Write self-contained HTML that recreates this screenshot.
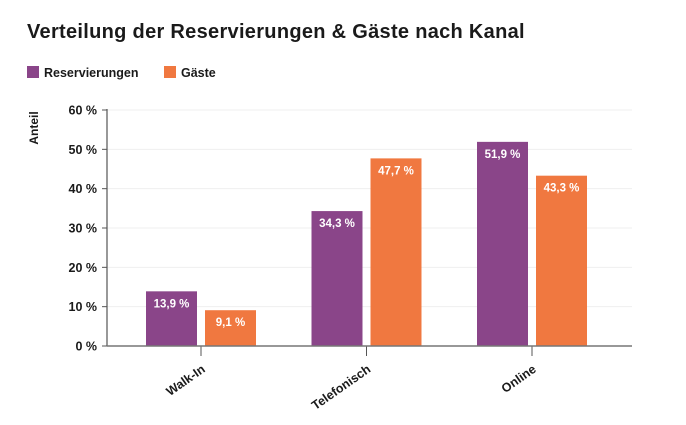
<!DOCTYPE html>
<html><head><meta charset="utf-8">
<style>
html,body{margin:0;padding:0;background:#fff;width:686px;height:425px;overflow:hidden}
svg{display:block;font-family:"Liberation Sans",sans-serif}
</style></head>
<body>
<svg id="chart" width="686" height="425">
  <text x="27" y="38" font-size="20" letter-spacing="0.3" font-weight="bold" fill="#1a1a1a">Verteilung der Reservierungen &amp; Gäste nach Kanal</text>
  <g>
    <rect x="27" y="66" width="12" height="12" fill="#8a4589"/>
    <text x="44" y="77" font-size="12.5" font-weight="bold" fill="#1a1a1a">Reservierungen</text>
    <rect x="164" y="66" width="12" height="12" fill="#f07840"/>
    <text x="181" y="77" font-size="12.5" font-weight="bold" fill="#1a1a1a">Gäste</text>
  </g>
  <text transform="translate(38,128) rotate(-90)" text-anchor="middle" font-size="12" font-weight="bold" fill="#1a1a1a">Anteil</text>
  <g id="grid"></g>
  <g id="bars"></g>
  <g id="axes"></g>
</svg>
<script>
const categories = ["Walk-In", "Telefonisch", "Online"];
const reservierungen = [13.9, 34.3, 51.9];
const gaeste = [9.1, 47.7, 43.3];
const yTicks = [0, 10, 20, 30, 40, 50, 60];
const yTickLabels = ["0 %", "10 %", "20 %", "30 %", "40 %", "50 %", "60 %"];

const NS = "http://www.w3.org/2000/svg";
const x0 = 107, x1 = 632, yBase = 346, yTop = 110, yMax = 60;
const catStart = 201, catStep = 165.5, barW = 51, gap = 8;
function yScale(v){ return yBase - (v / yMax) * (yBase - yTop); }
function xCenter(i){ return catStart + i * catStep; }
function mk(tag, attrs, parent){
  const e = document.createElementNS(NS, tag);
  for (const k in attrs) e.setAttribute(k, attrs[k]);
  parent.appendChild(e); return e;
}
const grid = document.getElementById("grid");
const bars = document.getElementById("bars");
const axes = document.getElementById("axes");

yTicks.forEach((t, i) => {
  const y = yScale(t);
  if (t > 0) {
    const g = mk("line", {x1: x0, x2: x1, y1: y, y2: y, stroke: "#efefef", "stroke-width": 1}, grid);
    
    
  }
  const tk = mk("line", {x1: x0 - 5, x2: x0, y1: y, y2: y, stroke: "#555", "stroke-width": 1}, axes);
  
  
  const lb = mk("text", {x: x0 - 10, y: y + 4.5, "text-anchor": "end", "font-size": 12.5, "font-weight": "bold", fill: "#1a1a1a"}, axes);
  lb.textContent = yTickLabels[i];
  
  
});

const series = [[reservierungen, "#8a4589", "bar-reservierungen"], [gaeste, "#f07840", "bar-gaeste"]];
categories.forEach((c, i) => {
  const cx = xCenter(i);
  series.forEach((s, j) => {
    const v = s[0][i];
    const bx = j === 0 ? cx - gap / 2 - barW : cx + gap / 2;
    const y = yScale(v);
    const r = mk("rect", {x: bx, y: y, width: barW, height: yBase - y, fill: s[1]}, bars);
    
    
    const t = mk("text", {x: bx + barW / 2, y: y + 16, "text-anchor": "middle", "font-size": 11.5, "font-weight": "bold", fill: "#fff"}, bars);
    t.textContent = v.toFixed(1).replace(".", ",") + " %";
    
    
  });
  const tk = mk("line", {x1: cx, x2: cx, y1: yBase, y2: yBase + 10, stroke: "#555", "stroke-width": 1}, axes);
  
  
  const lx = cx + 5, ly = yBase + 25;
  const lb = mk("text", {x: lx, y: ly, "text-anchor": "end", "font-size": 12.5, "font-weight": "bold", fill: "#1a1a1a", transform: "rotate(-35 " + lx + " " + ly + ")"}, axes);
  lb.textContent = c;
  
  
});

const ya = mk("line", {x1: x0, x2: x0, y1: yTop - 1, y2: yBase, stroke: "#555", "stroke-width": 1.2}, axes);


const xa = mk("line", {x1: x0, x2: x1, y1: yBase, y2: yBase, stroke: "#777", "stroke-width": 1.5}, axes);


</script>
</body></html>
